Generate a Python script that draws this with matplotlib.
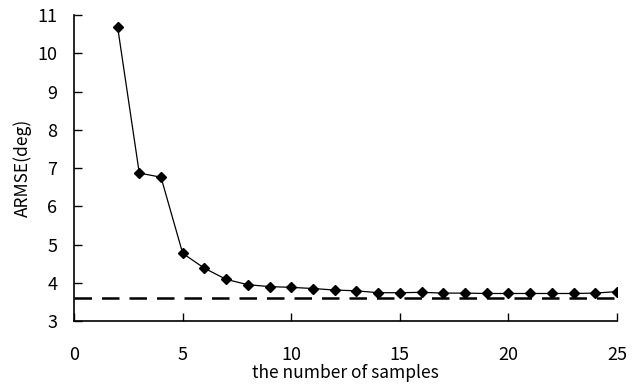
import matplotlib

matplotlib.use("Agg")

import matplotlib.pyplot as plt
import numpy as np

plt.rcParams["font.family"] = ["Noto Sans CJK JP", "DejaVu Sans"]

# 値は図から読み取り
samples = [2, 3, 4, 5, 6, 7, 8, 9, 10, 11, 12, 13, 14, 15, 16, 17, 18, 19, 20, 21, 22, 23, 24, 25]
armse = [10.70, 6.87, 6.76, 4.77, 4.38, 4.09, 3.95, 3.90, 3.88, 3.85, 3.81, 3.79, 3.74, 3.74,
         3.75, 3.73, 3.73, 3.72, 3.72, 3.72, 3.72, 3.72, 3.73, 3.77]
baseline = 3.60
x_ticks = [0, 5, 10, 15, 20, 25]
y_ticks = [3, 4, 5, 6, 7, 8, 9, 10, 11]

fig = plt.figure(figsize=(6.39, 3.87), dpi=100)
ax = fig.add_axes([0.116, 0.1705, 0.8496, 0.7905])

ax.plot([0, 25], [baseline, baseline], color="black", linewidth=1.8, dashes=(7, 4), zorder=2)
ax.plot(samples, armse, color="black", linewidth=0.9, marker="D", markersize=5, zorder=3)

ax.set_xlim(0, 25)
ax.set_ylim(3, 11)
ax.set_xticks(x_ticks)
ax.set_yticks(y_ticks)
ax.spines["top"].set_visible(False)
ax.spines["right"].set_visible(False)
ax.spines["left"].set_linewidth(1.2)
ax.spines["bottom"].set_linewidth(1.2)
ax.tick_params(direction="in", length=6, width=1.0, labelsize=13, pad=12)
ax.tick_params(axis="x", pad=18)

ax.set_xlabel("the number of samples", fontsize=12.5, labelpad=0)
ax.set_ylabel("ARMSE(deg)", fontsize=12.5, labelpad=4)

fig.savefig("out.png", dpi=100)
plt.close(fig)
